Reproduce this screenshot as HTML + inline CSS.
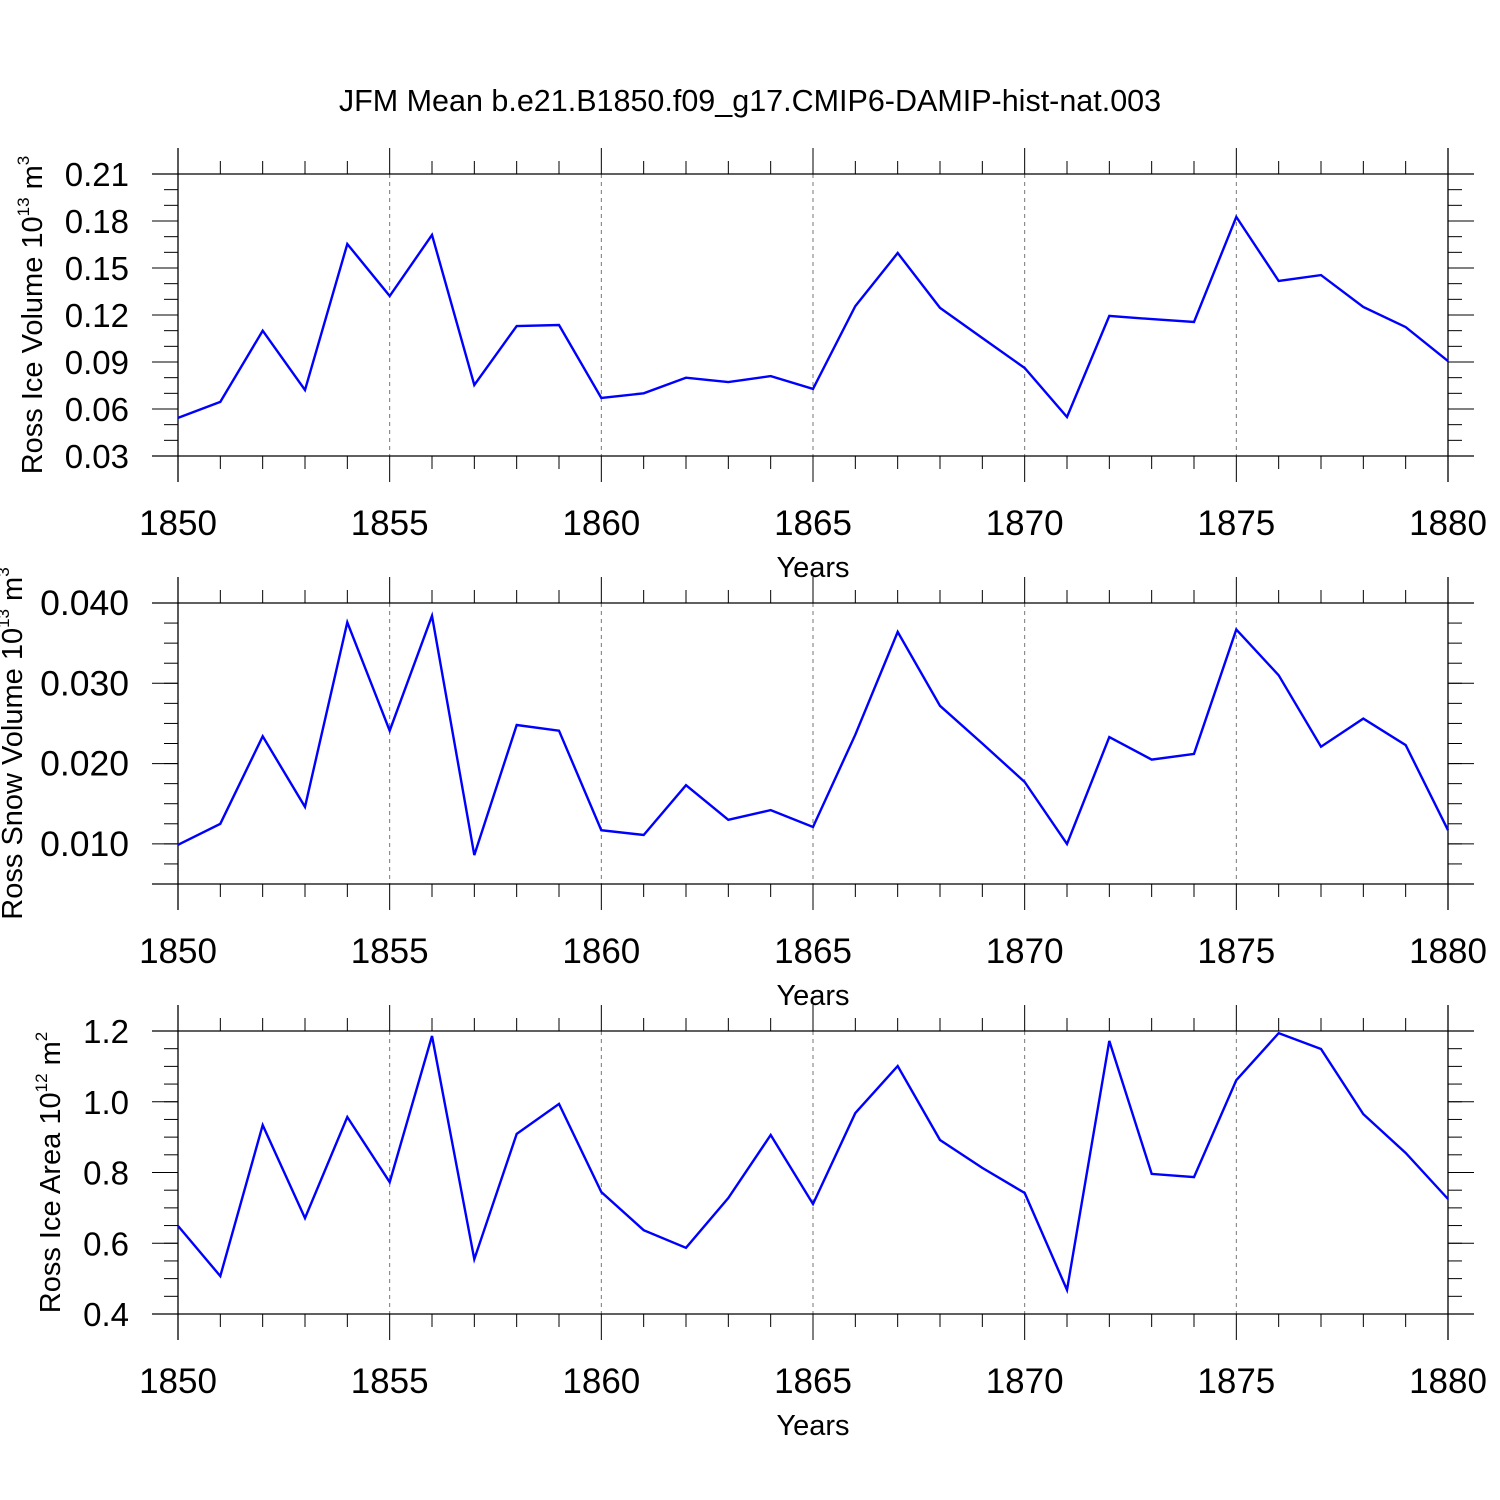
<!DOCTYPE html>
<html><head><meta charset="utf-8"><style>
html,body{margin:0;padding:0;background:#fff;}
svg{display:block;font-family:"Liberation Sans",sans-serif;}
</style></head><body>
<svg id="chart" width="1500" height="1500" viewBox="0 0 1500 1500" xmlns="http://www.w3.org/2000/svg">
<rect width="1500" height="1500" fill="#fff"/>
<text x="750" y="111" font-size="30.5" text-anchor="middle">JFM Mean b.e21.B1850.f09_g17.CMIP6-DAMIP-hist-nat.003</text>
</svg>
<script>
const years = [1850,1851,1852,1853,1854,1855,1856,1857,1858,1859,1860,1861,1862,1863,1864,1865,1866,1867,1868,1869,1870,1871,1872,1873,1874,1875,1876,1877,1878,1879,1880];
const iceVolume = [0.0543,0.0645,0.110,0.0721,0.1653,0.1321,0.1711,0.0753,0.113,0.1136,0.067,0.070,0.080,0.0772,0.081,0.0728,0.1257,0.1596,0.1245,0.1053,0.0862,0.0549,0.1194,0.1174,0.1155,0.1826,0.1417,0.1455,0.1251,0.1123,0.0906];
const snowVolume = [0.00988,0.0125,0.0234,0.0146,0.0376,0.0241,0.0384,0.0086,0.0248,0.0241,0.0117,0.0111,0.0173,0.0130,0.0142,0.0121,0.0236,0.0364,0.0272,0.0225,0.0177,0.0100,0.0233,0.0205,0.0212,0.0367,0.0310,0.0221,0.0256,0.0223,0.0117];
const iceArea = [0.649,0.507,0.934,0.671,0.957,0.773,1.186,0.555,0.909,0.994,0.745,0.637,0.587,0.728,0.906,0.711,0.968,1.101,0.892,0.813,0.742,0.468,1.172,0.796,0.787,1.061,1.194,1.149,0.965,0.855,0.725];
const xTickLabels = ["1850","1855","1860","1865","1870","1875","1880"];
const iceVolTicks = ["0.03","0.06","0.09","0.12","0.15","0.18","0.21"];
const snowVolTicks = ["0.010","0.020","0.030","0.040"];
const iceAreaTicks = ["0.4","0.6","0.8","1.0","1.2"];

const NS="http://www.w3.org/2000/svg";
const svg=document.getElementById('chart');
function mk(tag,attrs,parent){const e=document.createElementNS(NS,tag);for(const k in attrs)e.setAttribute(k,attrs[k]);(parent||svg).appendChild(e);return e;}

const X0=178,X1=1448;
const xMin=1850,xMax=1880;
function xs(v){return X0+(v-xMin)/(xMax-xMin)*(X1-X0);}

const panels=[
 {name:'ice-volume',top:174,bot:456,ymin:0.03,ymax:0.21,data:iceVolume,ticks:iceVolTicks,minor:0.01,fs:33,
  title:['Ross Ice Volume 10','13',' m','3'],tx:32},
 {name:'snow-volume',top:603,bot:884,ymin:0.005,ymax:0.040,data:snowVolume,ticks:snowVolTicks,minor:0.0025,fs:35.5,
  title:['Ross Snow Volume 10','13',' m','3'],tx:12},
 {name:'ice-area',top:1031,bot:1314,ymin:0.4,ymax:1.2,data:iceArea,ticks:iceAreaTicks,minor:0.05,fs:33,
  title:['Ross Ice Area 10','12',' m','2'],tx:50}
];
panels.forEach(p=>{
  const g=mk('g',{});
  
  
  const ys=v=>p.bot-(v-p.ymin)/(p.ymax-p.ymin)*(p.bot-p.top);
  for(let i=1;i<xTickLabels.length-1;i++){
    const x=xs(+xTickLabels[i]);
    const l=mk('line',{x1:x,x2:x,y1:p.top,y2:p.bot,stroke:'#777','stroke-width':1,'stroke-dasharray':'4,4'},g);
    
    
  }
  mk('line',{x1:X0-26,x2:X1+26,y1:p.top,y2:p.top,stroke:'#000','stroke-width':1.3},g);
  mk('line',{x1:X0-26,x2:X1+26,y1:p.bot,y2:p.bot,stroke:'#000','stroke-width':1.3},g);
  mk('line',{x1:X0,x2:X0,y1:p.top-26,y2:p.bot+26,stroke:'#000','stroke-width':1.3},g);
  mk('line',{x1:X1,x2:X1,y1:p.top-26,y2:p.bot+26,stroke:'#000','stroke-width':1.3},g);
  for(let yr=xMin;yr<=xMax;yr++){
    const x=xs(yr);const major=(yr%5===0);const L=major?26:13;
    mk('line',{x1:x,x2:x,y1:p.top,y2:p.top-L,stroke:'#000','stroke-width':1},g);
    mk('line',{x1:x,x2:x,y1:p.bot,y2:p.bot+L,stroke:'#000','stroke-width':1},g);
  }
  xTickLabels.forEach(t=>{
    const e=mk('text',{x:xs(+t),y:p.bot+79,'font-size':35,'text-anchor':'middle'},g);
    e.textContent=t;
    
    
  });
  const xt=mk('text',{x:813,y:p.bot+121,'font-size':29,'text-anchor':'middle'},g);
  xt.textContent='Years';
  
  
  const n=Math.round((p.ymax-p.ymin)/p.minor);
  for(let i=0;i<=n;i++){
    const y=ys(p.ymin+i*p.minor);
    mk('line',{x1:X0,x2:X0-14,y1:y,y2:y,stroke:'#000','stroke-width':1},g);
    mk('line',{x1:X1,x2:X1+14,y1:y,y2:y,stroke:'#000','stroke-width':1},g);
  }
  p.ticks.forEach(t=>{
    const y=ys(+t);
    mk('line',{x1:X0,x2:X0-26,y1:y,y2:y,stroke:'#000','stroke-width':1},g);
    mk('line',{x1:X1,x2:X1+26,y1:y,y2:y,stroke:'#000','stroke-width':1},g);
    const e=mk('text',{x:129,y:y+12,'font-size':p.fs,'text-anchor':'end'},g);
    e.textContent=t;
    
    
  });
  const cy=(p.top+p.bot)/2;
  const tt=mk('text',{x:0,y:0,'font-size':29,'text-anchor':'middle',transform:`translate(${p.tx+10},${cy}) rotate(-90)`},g);
  
  
  const s1=mk('tspan',{},tt);s1.textContent=p.title[0];
  const s2=mk('tspan',{dy:-13,'font-size':17},tt);s2.textContent=p.title[1];
  const s3=mk('tspan',{dy:13},tt);s3.textContent=p.title[2];
  const s4=mk('tspan',{dy:-13,'font-size':17},tt);s4.textContent=p.title[3];
  const pts=years.map((yr,i)=>xs(yr).toFixed(1)+','+ys(p.data[i]).toFixed(1)).join(' ');
  const pl=mk('polyline',{points:pts,fill:'none',stroke:'#0000ff','stroke-width':2.4,'stroke-linejoin':'miter'},g);
  
  
});
</script>
</body></html>
